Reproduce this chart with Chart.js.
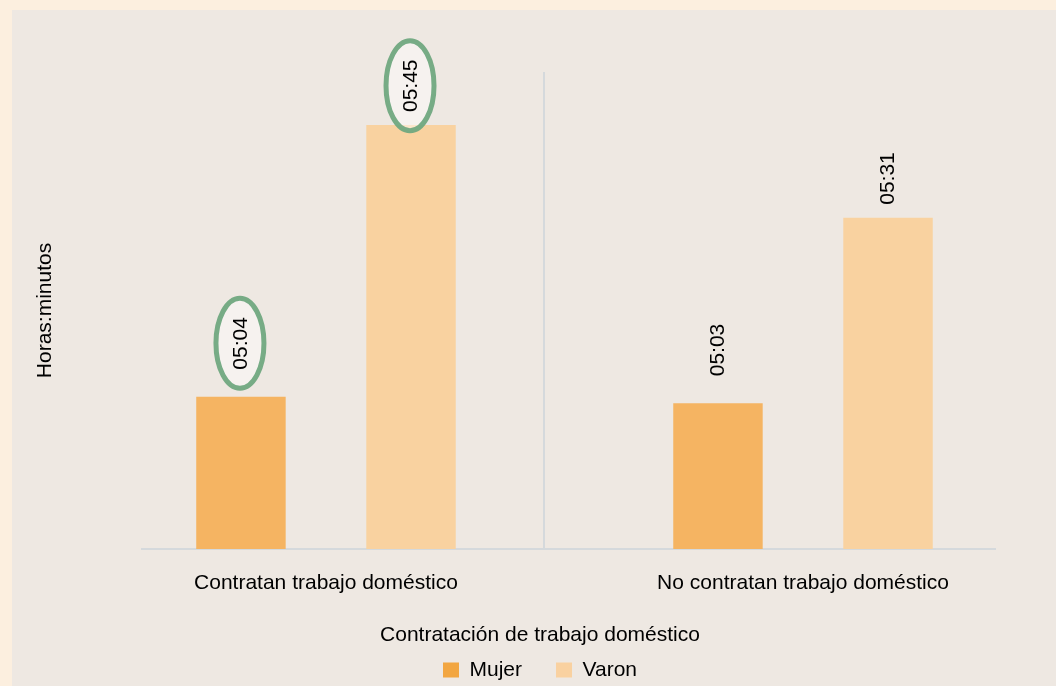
<!DOCTYPE html>
<html><head><meta charset="utf-8">
<script src="https://cdn.jsdelivr.net/npm/chart.js@4.4.1/dist/chart.umd.min.js"></script>
<style>html,body{margin:0;padding:0;background:#fcefdf;} canvas{display:block;}</style>
</head><body>
<canvas id="c" width="1056" height="686"></canvas>
<script>
// ---- data ----
const categories = ['Contratan trabajo doméstico', 'No contratan trabajo doméstico'];
const seriesNames = ['Mujer', 'Varon'];
const mujerMinutes = [304, 303];   // 05:04, 05:03
const varonMinutes = [345, 331];   // 05:45, 05:31
const highlightedCategories = ['Contratan trabajo doméstico'];
const yAxisTitle = 'Horas:minutos';
const legendTitle = 'Contratación de trabajo doméstico';

// ---- styles ----
const barColors = ['#f5b462', '#f9d2a0'];
const legendColors = ['#f2a641', '#f9d1a0'];
const lineColor = '#d5d9dc';
const FONT = "'Liberation Sans', Arial, Helvetica, sans-serif";

function fmt(m) {
  const h = Math.floor(m / 60), mm = m % 60;
  return String(h).padStart(2, '0') + ':' + String(mm).padStart(2, '0');
}

Chart.defaults.font.family = FONT;
Chart.defaults.font.size = 21;
Chart.defaults.color = '#000';

const bgPlugin = {
  id: 'bg',
  beforeDraw(chart) {
    const c = chart.ctx;
    c.save();
    c.fillStyle = '#fcefdf';
    c.fillRect(0, 0, chart.width, chart.height);
    c.fillStyle = '#eee8e2';
    c.fillRect(12, 10, chart.width - 12, chart.height - 10);
    c.restore();
  }
};

const barLabels = {
  id: 'barLabels',
  afterDatasetsDraw(chart, args, opts) {
    const c = chart.ctx;
    chart.data.datasets.forEach((ds, di) => {
      const meta = chart.getDatasetMeta(di);
      meta.data.forEach((bar, i) => {
        const text = fmt(ds.data[i].y);
        c.save();
        c.font = '21px ' + FONT;
        const w = c.measureText(text).width;
        const cx = bar.x, cy = bar.y - opts.gaps[di] - w / 2;
        if (highlightedCategories.includes(categories[i])) {
          c.beginPath();
          c.ellipse(cx - 1, cy, 24, 45, 0, 0, Math.PI * 2);
          c.fillStyle = 'rgba(255,255,255,0.45)';
          c.fill();
          c.lineWidth = 5;
          c.strokeStyle = 'rgba(112,168,128,0.95)';
          c.stroke();
        }
        c.translate(cx, cy);
        c.rotate(-Math.PI / 2);
        c.textAlign = 'center';
        c.textBaseline = 'middle';
        c.fillStyle = '#000';
        c.fillText(text, 0, 0);
        c.restore();
      });
    });
  }
};

const xMin = -0.3857, xMax = 1.4025, separatorValue = 0.457;

new Chart(document.getElementById('c'), {
  type: 'bar',
  data: {
    datasets: [
      { label: seriesNames[0], xAxisID: 'x', yAxisID: 'y',
        data: mujerMinutes.map((v, i) => ({ x: i, y: v })),
        backgroundColor: barColors[0], categoryPercentage: 0.713, barPercentage: 0.526 },
      { label: seriesNames[1], xAxisID: 'x', yAxisID: 'y',
        data: varonMinutes.map((v, i) => ({ x: i, y: v })),
        backgroundColor: barColors[1], categoryPercentage: 0.713, barPercentage: 0.526 }
    ]
  },
  options: {
    responsive: false,
    animation: false,
    layout: { padding: { left: 85, right: 61, top: 72, bottom: 0 } },
    scales: {
      x: {
        type: 'linear', min: xMin, max: xMax, offset: false,
        afterBuildTicks: s => { s.ticks = categories.map((_, i) => ({ value: i })); },
        ticks: { autoSkip: false, maxRotation: 0, padding: 22, color: '#000',
          callback: v => categories[v] !== undefined ? categories[v] : '' },
        grid: { display: false, offset: false, drawTicks: false },
        border: { display: true, color: lineColor, width: 2 }
      },
      x2: {
        type: 'linear', position: 'top', min: xMin, max: xMax, offset: false,
        afterBuildTicks: s => { s.ticks = [{ value: separatorValue }]; },
        ticks: { display: false },
        grid: { display: true, offset: false, drawTicks: false, color: lineColor, lineWidth: 2 },
        border: { display: false }
      },
      y: {
        type: 'linear', min: 281, max: 353, beginAtZero: false,
        ticks: { display: false },
        grid: { display: false, drawTicks: false },
        border: { display: false },
        title: { display: true, text: yAxisTitle, color: '#000', font: { size: 21 },
          padding: { top: -52.6, bottom: 84.4 } }
      }
    },
    plugins: {
      tooltip: { enabled: false },
      barLabels: { gaps: [27, 13] },
      legend: {
        position: 'bottom', align: 'center', maxHeight: 67.8,
        title: { display: true, text: legendTitle, color: '#000', font: { size: 21 },
          padding: { top: 6.3, bottom: -24.2 } },
        labels: {
          boxWidth: 16, boxHeight: 15, padding: 34, color: '#000', font: { size: 21 },
          generateLabels: chart => Chart.defaults.plugins.legend.labels.generateLabels(chart)
            .map((it, i) => Object.assign(it, { fillStyle: legendColors[i], strokeStyle: legendColors[i], lineWidth: 0 }))
        }
      }
    }
  },
  plugins: [bgPlugin, barLabels]
});
</script>
</body></html>
